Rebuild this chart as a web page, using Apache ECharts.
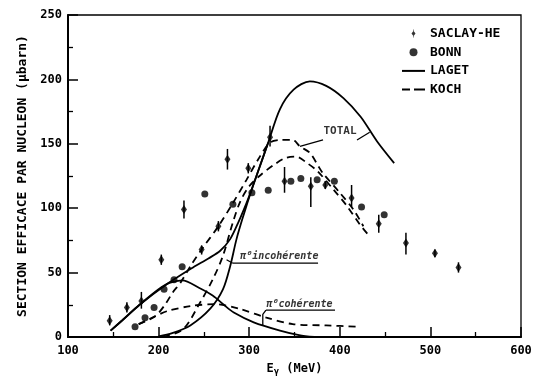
<!DOCTYPE html>
<html>
<head>
<meta charset="utf-8">
<script src="https://cdn.jsdelivr.net/npm/echarts@6/dist/echarts.min.js"></script>
<style>
html,body{margin:0;padding:0;background:#fff;}
#chart{width:535px;height:381px;}
</style>
</head>
<body>
<div id="chart"></div>
<script>
// ---- data ----
const xTickLabels = [100, 200, 300, 400, 500, 600];
const yTickLabels = [0, 50, 100, 150, 200, 250];

// SACLAY-HE: [E, value, low, high]
const saclay = [
  [146, 12.6, 9, 17], [165, 23, 19, 27], [181, 28, 22, 35], [203, 60, 56, 64],
  [228, 99, 92, 106], [247.5, 68, 64, 71], [266, 86, 82, 90], [276, 138, 130, 146],
  [299, 131, 127, 135], [323, 155, 148, 164], [339, 121, 112, 132], [368, 117, 101, 124],
  [384, 118, 115, 121], [413, 108, 101, 118], [443, 88, 81, 95], [473, 73, 64, 81],
  [505, 65, 62, 68], [531, 54, 50, 58]
];
// BONN: [E, value]
const bonn = [
  [174, 8], [185, 15], [195, 23], [206, 37], [217, 44.5], [226, 54.5], [251, 111],
  [282, 103], [303, 112], [321, 114], [346, 121], [357, 123], [375, 122], [394, 121],
  [424, 101], [449, 95]
];
// LAGET (solid)
const lagetTotal = [
  [147, 5], [160, 13], [179, 25], [207, 40], [238, 54], [255, 61], [268, 67], [279, 76],
  [288, 89], [297, 104], [303, 115], [311, 131], [321, 151], [334, 177], [349, 192],
  [367, 198.5], [385, 195], [404, 185.5], [423, 171], [441, 152], [460, 135]
];
const lagetCoherent = [
  [147, 5], [160, 13], [179, 25], [200, 37], [212, 42], [226, 44], [245, 38], [260, 32],
  [272, 25], [283, 19], [305, 11.4], [334, 5], [355, 1.5], [372, 0]
];
const lagetIncoherent = [
  [200, 0.5], [215, 3], [235, 9], [257, 22], [271, 37], [279, 55], [286, 76],
  [293.5, 94], [303, 115], [311, 131], [321, 151]
];
// KOCH (dashed)
const kochTotal = [
  [178, 10], [196, 16], [207, 25], [216, 35], [224, 42], [236, 56], [247.5, 68],
  [266, 86], [282, 104], [297, 122], [310, 138], [323, 151], [334, 153], [348, 153],
  [356, 148], [367, 143], [376, 133], [381, 127.5], [400, 112], [415, 99], [426, 86]
];
const kochCoherent = [
  [178, 10], [196, 16], [209, 20], [235, 24], [262, 25.5], [290, 21.7], [319, 15],
  [348, 10], [385, 9], [420, 8]
];
const kochIncoherent = [
  [205, 0], [227, 6], [246, 27], [260, 45], [271, 63], [282, 89], [290, 105],
  [300, 117], [313, 126], [328, 134], [340, 139], [352, 140], [364, 135], [375, 129],
  [393, 114.5], [408, 101.6], [422, 87.5], [433, 78]
];
// annotation labels and leader lines (data coordinates)
const annoLabels = [
  [382, 160, 'TOTAL', 11],
  [290, 62.7, 'π⁰incohérente', 10],
  [319, 25, 'π⁰cohérente', 10]
];
const annoLines = [
  [[356, 148], [381.5, 153]],
  [[419, 153], [433, 159]],
  [[282, 57.3], [376, 57.3]],
  [[275, 60], [282, 57.3]],
  [[318.5, 20.9], [394.7, 20.9]],
  [[318.5, 20.9], [315, 17.5], [315, 9]]
];

// ---- chart ----
const FONT = 'DejaVu Sans Mono';
const chart = echarts.init(document.getElementById('chart'), null, {renderer: 'canvas'});

const lineSeries = (name, data, dashed) => ({
  name: name, type: 'line', data: data, smooth: 0.3, symbol: 'none', silent: true,
  lineStyle: {color: '#000', width: 1.8, type: dashed ? [7, 5] : 'solid'},
  itemStyle: {color: '#000'}, z: 3
});

const series = [
  lineSeries('LAGET', lagetTotal, false),
  lineSeries('LAGET', lagetCoherent, false),
  lineSeries('LAGET', lagetIncoherent, false),
  lineSeries('KOCH', kochTotal, true),
  lineSeries('KOCH', kochCoherent, true),
  lineSeries('KOCH', kochIncoherent, true),
  {
    name: 'saclayErr', type: 'custom', data: saclay, silent: true, z: 4,
    encode: {x: 0, y: [2, 3]},
    renderItem: function (params, api) {
      const x = api.value(0);
      const p1 = api.coord([x, api.value(2)]);
      const p2 = api.coord([x, api.value(3)]);
      return {type: 'line', shape: {x1: p1[0], y1: p1[1], x2: p2[0], y2: p2[1]},
              style: {stroke: '#000', lineWidth: 1.5}};
    }
  },
  {
    name: 'SACLAY-HE', type: 'scatter', data: saclay.map(d => [d[0], d[1]]),
    symbol: 'diamond', symbolSize: [6, 9], itemStyle: {color: '#000'}, z: 5, silent: true
  },
  {
    name: 'BONN', type: 'scatter', data: bonn,
    symbol: 'circle', symbolSize: 7, itemStyle: {color: '#000'}, z: 5, silent: true
  }
];

annoLines.forEach(function (seg) {
  series.push({
    name: 'anno', type: 'line', data: seg, symbol: 'none', silent: true, z: 3,
    lineStyle: {color: '#000', width: 1.3}
  });
});
annoLabels.forEach(function (a) {
  series.push({
    name: 'annoText', type: 'scatter', data: [[a[0], a[1]]], symbolSize: 0, silent: true, z: 6,
    label: {
      show: true, position: 'right', distance: 0, formatter: a[2],
      color: '#000', fontFamily: FONT, fontWeight: 'bold',
      fontStyle: a[3] === 10 ? 'italic' : 'normal', fontSize: a[3]
    }
  });
});

chart.setOption({
  animation: false,
  backgroundColor: '#fff',
  grid: {left: 68, right: 14, top: 15, bottom: 43, show: true, borderColor: '#000', borderWidth: 1.3, backgroundColor: 'transparent'},
  legend: {
    orient: 'vertical', left: 402, top: 27, padding: 0, itemWidth: 23, itemHeight: 8, itemGap: 5.7,
    selectedMode: false,
    textStyle: {fontFamily: FONT, fontWeight: 'bold', fontSize: 13, color: '#000', lineHeight: 12},
    data: [
      {name: 'SACLAY-HE', icon: 'path://M3,0 L4,0 L4,3 L7,7 L4,11 L4,14 L3,14 L3,11 L0,7 L3,3 Z'},
      {name: 'BONN', icon: 'circle'},
      {name: 'LAGET', icon: 'path://M0,0 L23,0 L23,2 L0,2 Z'},
      {name: 'KOCH', icon: 'path://M0,0 L8,0 L8,2 L0,2 Z M12,0 L23,0 L23,2 L12,2 Z'}
    ]
  },
  xAxis: {
    type: 'value', min: xTickLabels[0], max: xTickLabels[xTickLabels.length - 1], interval: 100,
    name: 'E{s|γ} (MeV)', nameLocation: 'middle', nameGap: 24,
    nameTextStyle: {fontFamily: FONT, fontWeight: 'bold', fontSize: 12, color: '#000',
      rich: {s: {fontFamily: FONT, fontWeight: 'bold', fontSize: 9, color: '#000', verticalAlign: 'bottom', padding: [6, 0, 0, 0]}}},
    axisLine: {show: true, onZero: false, lineStyle: {color: '#000', width: 2}},
    axisTick: {show: true, inside: true, length: 10, lineStyle: {color: '#000', width: 1.5}},
    minorTick: {show: true, splitNumber: 2, length: 5, lineStyle: {color: '#000', width: 1.3}},
    axisLabel: {margin: 8, color: '#000', fontFamily: FONT, fontWeight: 'bold', fontSize: 12,
      formatter: v => xTickLabels.indexOf(v) >= 0 ? String(v) : ''},
    splitLine: {show: false}
  },
  yAxis: {
    type: 'value', min: yTickLabels[0], max: yTickLabels[yTickLabels.length - 1], interval: 50,
    name: 'SECTION EFFICACE PAR NUCLEON (μbarn)', nameLocation: 'middle', nameGap: 36, nameRotate: 90,
    nameTextStyle: {fontFamily: FONT, fontWeight: 'bold', fontSize: 13, color: '#000'},
    axisLine: {show: true, onZero: false, lineStyle: {color: '#000', width: 2}},
    axisTick: {show: true, inside: true, length: 10, lineStyle: {color: '#000', width: 1.5}},
    minorTick: {show: true, splitNumber: 2, length: 5, lineStyle: {color: '#000', width: 1.3}},
    axisLabel: {margin: 6, color: '#000', fontFamily: FONT, fontWeight: 'bold', fontSize: 12,
      formatter: v => yTickLabels.indexOf(v) >= 0 ? String(v) : ''},
    splitLine: {show: false}
  },
  series: series
});
</script>
</body>
</html>
